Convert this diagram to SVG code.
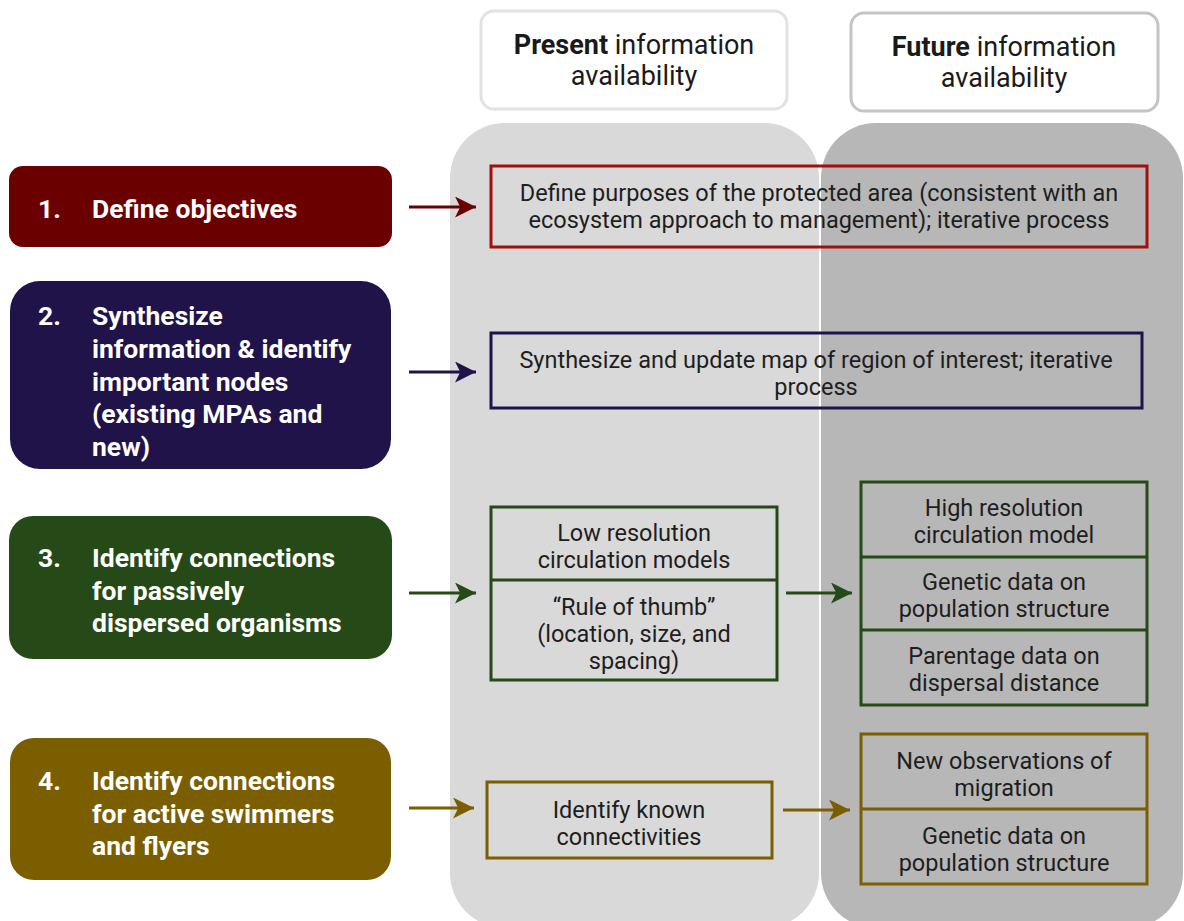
<svg xmlns="http://www.w3.org/2000/svg" width="1184" height="921" viewBox="0 0 1184 921">
<style>
.hd{font-family:Roboto,"Liberation Sans",sans-serif;font-size:27px;fill:#1a1a1a;text-anchor:middle}
.st{font-family:Roboto,"Liberation Sans",sans-serif;font-weight:bold;font-size:26.5px;fill:#ffffff}
.bx{font-family:Roboto,"Liberation Sans",sans-serif;font-size:23.5px;fill:#1e1e1e;text-anchor:middle}
.ob{fill:none;stroke-width:3}
</style>
<defs>
<marker id="ah" viewBox="0 0 10 10" refX="10" refY="5" markerWidth="9" markerHeight="7" markerUnits="strokeWidth" orient="auto">
<path d="M10,5 L0,0 L2.5,5 L0,10 Z" fill="context-stroke"/>
</marker>
</defs>
<rect width="1184" height="921" fill="#ffffff"/>
<g id="columns">
<rect x="450" y="123" width="369" height="805" rx="55" fill="#d9d9d9"/>
<rect x="821" y="123" width="362" height="805" rx="55" fill="#b7b7b7"/>
</g>
<g id="hdr-present">
<rect x="481" y="11" width="306" height="98" rx="13" fill="#ffffff" stroke="#e2e2e2" stroke-width="3"/>
<text class="hd" x="634" y="54"><tspan font-weight="bold">Present</tspan> information</text>
<text class="hd" x="634" y="85">availability</text>
</g>
<g id="hdr-future">
<rect x="851" y="13" width="307" height="98" rx="13" fill="#ffffff" stroke="#c4c4c4" stroke-width="3"/>
<text class="hd" x="1004" y="56"><tspan font-weight="bold">Future</tspan> information</text>
<text class="hd" x="1004" y="87">availability</text>
</g>
<g id="step1">
<rect x="9" y="166" width="383" height="81" rx="14" fill="#6b0000"/>
<text class="st" x="38" y="218">1.</text>
<text class="st" x="92" y="218">Define objectives</text>
</g>
<g id="step2">
<rect x="10" y="281" width="381" height="188" rx="30" fill="#20134a"/>
<text class="st" x="38" y="325">2.</text>
<text class="st" x="92" y="325">Synthesize</text>
<text class="st" x="92" y="358">information &amp; identify</text>
<text class="st" x="92" y="391">important nodes</text>
<text class="st" x="92" y="423">(existing MPAs and</text>
<text class="st" x="92" y="456">new)</text>
</g>
<g id="step3">
<rect x="9" y="516" width="383" height="143" rx="24" fill="#254a17"/>
<text class="st" x="38" y="567">3.</text>
<text class="st" x="92" y="567">Identify connections</text>
<text class="st" x="92" y="600">for passively</text>
<text class="st" x="92" y="632">dispersed organisms</text>
</g>
<g id="step4">
<rect x="10" y="738" width="381" height="142" rx="24" fill="#7b5e00"/>
<text class="st" x="38" y="790">4.</text>
<text class="st" x="92" y="790">Identify connections</text>
<text class="st" x="92" y="823">for active swimmers</text>
<text class="st" x="92" y="855">and flyers</text>
</g>
<g id="purpose">
<rect class="ob" x="491" y="166" width="656" height="81" stroke="#a30f0f"/>
<text class="bx" x="819" y="201">Define purposes of the protected area (consistent with an</text>
<text class="bx" x="819" y="228">ecosystem approach to management); iterative process</text>
</g>
<g id="synth-map">
<rect class="ob" x="491" y="333" width="651" height="75" stroke="#20134a"/>
<text class="bx" x="816" y="368">Synthesize and update map of region of interest; iterative</text>
<text class="bx" x="816" y="395">process</text>
</g>
<g id="passive-present">
<rect class="ob" x="491" y="507" width="286" height="173" stroke="#254a17"/>
<line class="ob" x1="491" y1="580" x2="777" y2="580" stroke="#254a17"/>
<text class="bx" x="634" y="541">Low resolution</text>
<text class="bx" x="634" y="568">circulation models</text>
<text class="bx" x="634" y="615">“Rule of thumb”</text>
<text class="bx" x="634" y="642">(location, size, and</text>
<text class="bx" x="634" y="669">spacing)</text>
</g>
<g id="passive-future">
<rect class="ob" x="861" y="482" width="286" height="223" stroke="#254a17"/>
<line class="ob" x1="861" y1="557" x2="1147" y2="557" stroke="#254a17"/>
<line class="ob" x1="861" y1="630" x2="1147" y2="630" stroke="#254a17"/>
<text class="bx" x="1004" y="516">High resolution</text>
<text class="bx" x="1004" y="543">circulation model</text>
<text class="bx" x="1004" y="590">Genetic data on</text>
<text class="bx" x="1004" y="617">population structure</text>
<text class="bx" x="1004" y="664">Parentage data on</text>
<text class="bx" x="1004" y="691">dispersal distance</text>
</g>
<g id="active-present">
<rect class="ob" x="487" y="782" width="285" height="76" stroke="#7b5e00"/>
<text class="bx" x="629" y="818">Identify known</text>
<text class="bx" x="629" y="845">connectivities</text>
</g>
<g id="active-future">
<rect class="ob" x="861" y="734" width="286" height="150" stroke="#7b5e00"/>
<line class="ob" x1="861" y1="809" x2="1147" y2="809" stroke="#7b5e00"/>
<text class="bx" x="1004" y="769">New observations of</text>
<text class="bx" x="1004" y="796">migration</text>
<text class="bx" x="1004" y="844">Genetic data on</text>
<text class="bx" x="1004" y="871">population structure</text>
</g>
<g id="connectors" fill="none" stroke-width="3">
<line x1="409" y1="207" x2="476" y2="207" stroke="#6b0000" marker-end="url(#ah)"/>
<line x1="409" y1="372" x2="476" y2="372" stroke="#20134a" marker-end="url(#ah)"/>
<line x1="409" y1="593" x2="476" y2="593" stroke="#254a17" marker-end="url(#ah)"/>
<line x1="409" y1="808" x2="474" y2="808" stroke="#7b5e00" marker-end="url(#ah)"/>
<line x1="786" y1="593" x2="852" y2="593" stroke="#254a17" marker-end="url(#ah)"/>
<line x1="783" y1="810" x2="850" y2="810" stroke="#7b5e00" marker-end="url(#ah)"/>
</g>
</svg>
